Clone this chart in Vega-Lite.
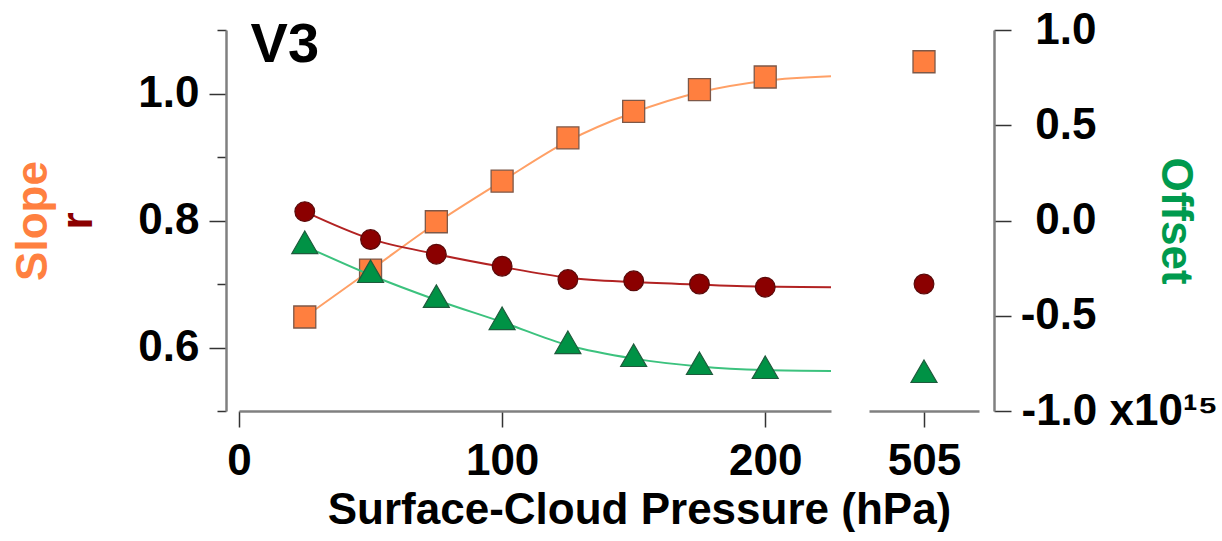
{
  "$schema": "https://vega.github.io/schema/vega-lite/v6.json",
  "background": "white",
  "padding": {"left": 10, "top": 8, "right": 0, "bottom": 0},
  "bounds": "flush",
  "spacing": 38,
  "datasets": {
    "pts": [
      {"p": 25, "slope": 0.648, "r": 0.814, "offset": -0.134},
      {"p": 50, "slope": 0.722, "r": 0.770, "offset": -0.286},
      {"p": 75, "slope": 0.798, "r": 0.747, "offset": -0.417},
      {"p": 100, "slope": 0.862, "r": 0.728, "offset": -0.533},
      {"p": 125, "slope": 0.930, "r": 0.707, "offset": -0.659},
      {"p": 150, "slope": 0.972, "r": 0.705, "offset": -0.727},
      {"p": 175, "slope": 1.006, "r": 0.700, "offset": -0.769},
      {"p": 200, "slope": 1.026, "r": 0.695, "offset": -0.790},
      {"p": 505, "slope": 1.050, "r": 0.700, "offset": -0.811}
    ],
    "fit": [
      {"p": 25, "slope": 0.648, "r": 0.814, "offset": -0.134},
      {"p": 50, "slope": 0.722, "r": 0.771, "offset": -0.286},
      {"p": 75, "slope": 0.796, "r": 0.747, "offset": -0.417},
      {"p": 100, "slope": 0.862, "r": 0.727, "offset": -0.533},
      {"p": 125, "slope": 0.925, "r": 0.710, "offset": -0.655},
      {"p": 150, "slope": 0.970, "r": 0.703, "offset": -0.725},
      {"p": 175, "slope": 1.002, "r": 0.699, "offset": -0.766},
      {"p": 200, "slope": 1.020, "r": 0.696, "offset": -0.785},
      {"p": 225, "slope": 1.027, "r": 0.695, "offset": -0.790}
    ],
    "label": [
      {"name": "V3", "p": 4.4, "v": 1.0496}
    ]
  },
  "config": {
    "view": {"stroke": null},
    "axis": {
      "grid": false,
      "labelFont": "Liberation Sans", "labelFontWeight": "bold", "labelFontSize": 44, "labelColor": "#000",
      "titleFont": "Liberation Sans", "titleFontWeight": "bold", "titleFontSize": 44,
      "domainColor": "#808080", "domainWidth": 2.5, "tickColor": "#333", "tickWidth": 1.5,
      "labelFlush": false, "labelOverlap": false, "labelBound": false, "labelLimit": 400
    }
  },
  "hconcat": [
    {
      "width": 592, "height": 381,
      "layer": [
        {"layer": [
          {"data": {"name": "fit"},
           "mark": {"type": "line", "interpolate": "monotone", "color": "#FFA066", "strokeWidth": 2},
           "encoding": {
             "x": {"field": "p", "type": "quantitative", "scale": {"domain": [0, 225], "nice": false, "zero": false},
                   "axis": {"values": [0, 100, 200], "tickSize": 16, "labelPadding": 12, "title": "Surface-Cloud Pressure (hPa)", "titleX": 400, "titleY": 112, "titleBaseline": "alphabetic", "titleAlign": "center", "titleColor": "#000"}},
             "y": {"field": "slope", "type": "quantitative", "scale": {"domain": [0.5, 1.1], "nice": false, "zero": false},
                   "axis": {"orient": "left", "offset": 13, "values": [0.5, 0.6, 0.7, 0.8, 0.9, 1.0, 1.1],
                            "labelExpr": "(datum.value == 0.6 || datum.value == 0.8 || datum.value == 1) ? format(datum.value, '.1f') : ''",
                            "tickSize": {"condition": {"test": "datum.value == 0.5 || datum.value == 0.7 || datum.value == 0.9 || datum.value == 1.1", "value": 9}, "value": 17},
                            "labelPadding": 10,
                            "title": "Slope", "titleColor": "#FF8040", "titleAngle": -90, "titleX": -180, "titleY": 190.5, "titleAlign": "center", "titleBaseline": "alphabetic"}}
           }},
          {"data": {"name": "pts"}, "transform": [{"filter": "datum.p <= 225"}],
           "mark": {"type": "point", "shape": "square", "filled": true, "size": 484, "color": "#FF7F3F", "stroke": "#7D5848", "strokeWidth": 1.3, "opacity": 1},
           "encoding": {
             "x": {"field": "p", "type": "quantitative"},
             "y": {"field": "slope", "type": "quantitative"}
           }},
          {"data": {"name": "label"},
           "mark": {"type": "text", "align": "left", "baseline": "alphabetic", "font": "Liberation Sans", "fontWeight": "bold", "fontSize": 56, "color": "#000"},
           "encoding": {
             "x": {"field": "p", "type": "quantitative"},
             "y": {"field": "v", "type": "quantitative"},
             "text": {"field": "name"}
           }}
        ]},
        {"layer": [
          {"data": {"name": "fit"},
           "mark": {"type": "line", "interpolate": "monotone", "color": "#B22222", "strokeWidth": 2},
           "encoding": {
             "x": {"field": "p", "type": "quantitative"},
             "y": {"field": "r", "type": "quantitative", "scale": {"domain": [0.5, 1.1], "nice": false, "zero": false},
                   "axis": {"orient": "left", "offset": 13, "domain": false, "ticks": false, "labels": false,
                            "title": "r", "titleColor": "#8B0000", "titleAngle": -90, "titleX": -135, "titleY": 190.5, "titleAlign": "center", "titleBaseline": "alphabetic"}}
           }},
          {"data": {"name": "pts"}, "transform": [{"filter": "datum.p <= 225"}],
           "mark": {"type": "point", "shape": "circle", "filled": true, "size": 390, "color": "#8B0000", "stroke": "#5A0A0A", "strokeWidth": 1.2, "opacity": 1},
           "encoding": {
             "x": {"field": "p", "type": "quantitative"},
             "y": {"field": "r", "type": "quantitative"}
           }}
        ]},
        {"layer": [
          {"data": {"name": "fit"},
           "mark": {"type": "line", "interpolate": "monotone", "color": "#3CC27E", "strokeWidth": 2},
           "encoding": {
             "x": {"field": "p", "type": "quantitative"},
             "y": {"field": "offset", "type": "quantitative", "scale": {"domain": [-1, 1], "nice": false, "zero": false}, "axis": null}
           }},
          {"data": {"name": "pts"}, "transform": [{"filter": "datum.p <= 225"}],
           "mark": {"type": "point", "shape": "M0,-1.155L1,0.577L-1,0.577Z", "filled": true, "size": 676, "color": "#009245", "stroke": "#1F5A3C", "strokeWidth": 1.2, "opacity": 1},
           "encoding": {
             "x": {"field": "p", "type": "quantitative"},
             "y": {"field": "offset", "type": "quantitative"}
           }}
        ]}
      ],
      "resolve": {"scale": {"y": "independent"}}
    },
    {
      "width": 110, "height": 381,
      "layer": [
        {"data": {"name": "pts"}, "transform": [{"filter": "datum.p == 505"}],
         "mark": {"type": "point", "shape": "square", "filled": true, "size": 484, "color": "#FF7F3F", "stroke": "#7D5848", "strokeWidth": 1.3, "opacity": 1},
         "encoding": {
           "x": {"field": "p", "type": "quantitative", "scale": {"domain": [484.1, 525.9], "nice": false, "zero": false},
                 "axis": {"values": [505], "tickSize": 16, "labelPadding": 12, "title": null}},
           "y": {"field": "slope", "type": "quantitative", "scale": {"domain": [0.5, 1.1], "nice": false, "zero": false}, "axis": null}
         }},
        {"data": {"name": "pts"}, "transform": [{"filter": "datum.p == 505"}],
         "mark": {"type": "point", "shape": "circle", "filled": true, "size": 390, "color": "#8B0000", "stroke": "#5A0A0A", "strokeWidth": 1.2, "opacity": 1},
         "encoding": {
           "x": {"field": "p", "type": "quantitative"},
           "y": {"field": "r", "type": "quantitative", "scale": {"domain": [0.5, 1.1], "nice": false, "zero": false}, "axis": null}
         }},
        {"data": {"name": "pts"}, "transform": [{"filter": "datum.p == 505"}],
         "mark": {"type": "point", "shape": "M0,-1.155L1,0.577L-1,0.577Z", "filled": true, "size": 676, "color": "#009245", "stroke": "#1F5A3C", "strokeWidth": 1.2, "opacity": 1},
         "encoding": {
           "x": {"field": "p", "type": "quantitative"},
           "y": {"field": "offset", "type": "quantitative", "scale": {"domain": [-1, 1], "nice": false, "zero": false},
                 "axis": {"orient": "right", "offset": 15, "values": [-1, -0.5, 0, 0.5, 1], "tickSize": 17,
                          "labelExpr": "datum.value == -1 ? '-1.0 x10\u00b9\u2075' : (datum.value < 0 ? '-' : '') + format(abs(datum.value), '.1f')",
                          "labelAlign": {"condition": {"test": "datum.value == -1", "value": "left"}, "value": "right"},
                          "labelPadding": {"condition": {"test": "datum.value == -1", "value": 10}, "value": 85},
                          "title": "Offset", "titleColor": "#009A4E", "titleAngle": 90, "titleX": 167, "titleY": 190.5, "titleAlign": "center", "titleBaseline": "alphabetic"}}
         }}
      ],
      "resolve": {"scale": {"y": "independent"}}
    }
  ]
}
